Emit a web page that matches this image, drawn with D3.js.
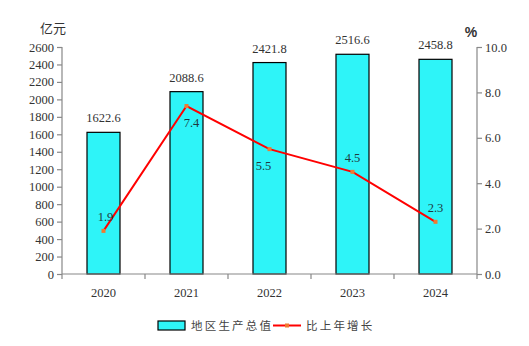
<!DOCTYPE html>
<html><head><meta charset="utf-8">
<script src="https://cdn.jsdelivr.net/npm/d3@7"></script>
<style>body{margin:0;background:#fff}svg{display:block}</style>
</head><body><svg id="c" width="529" height="346"></svg>
<script>
const years = ["2020","2021","2022","2023","2024"];
const gdp = [1622.6, 2088.6, 2421.8, 2516.6, 2458.8];
const growth = [1.9, 7.4, 5.5, 4.5, 2.3];
const leftTicks = [0,200,400,600,800,1000,1200,1400,1600,1800,2000,2200,2400,2600];
const rightTicks = [0,2,4,6,8,10];
const growthLabelPos = ["above","below","below","above","above"];

const svg = d3.select("#c");
const serif = "'Liberation Serif','Times New Roman',serif";
const cjk = "'Noto Sans CJK SC',sans-serif";
const x0 = 62, x1 = 477, yTop = 47, yBot = 274;
const x = d3.scaleBand().domain(years).range([x0, x1]);
const yL = d3.scaleLinear().domain([0, 2600]).range([yBot, yTop]);
const yR = d3.scaleLinear().domain([0, 10]).range([yBot, yTop]);
const barW = 33;

// bars
svg.selectAll("rect.bar").data(gdp).join("rect")
  .attr("x", (d,i) => x(years[i]) + x.bandwidth()/2 - barW/2)
  .attr("y", d => yL(d))
  .attr("width", barW)
  .attr("height", d => yBot - yL(d))
  .attr("fill", "#2ef4f8").attr("stroke", "#000").attr("stroke-width", 1.2);

// axes
const axL = d3.axisLeft(yL).tickValues(leftTicks).tickSize(5).tickFormat(d3.format("d"));
const axR = d3.axisRight(yR).tickValues(rightTicks).tickSize(5).tickFormat(d3.format(".1f"));
const gL = svg.append("g").attr("transform", `translate(${x0},0)`).call(axL);
const gR = svg.append("g").attr("transform", `translate(${x1},0)`).call(axR);
const axB = d3.axisBottom(x).tickSize(0).tickPadding(14);
const gB = svg.append("g").attr("transform", `translate(0,${yBot})`).call(axB);
// category boundary ticks
const bounds = years.map(y => x(y)).concat([x1]);
svg.selectAll("line.bt").data(bounds).join("line")
  .attr("x1", d => d).attr("x2", d => d).attr("y1", yBot).attr("y2", yBot + 5)
  .attr("stroke", "#888").attr("stroke-width", 1.2);

[gL, gR, gB].forEach(g => {
  g.select(".domain").attr("stroke", "#888").attr("stroke-width", 1.2);
  g.selectAll(".tick line").attr("stroke", "#888").attr("stroke-width", 1.2);
  g.selectAll("text").attr("font-family", serif).attr("font-size", 12.5).attr("fill", "#333");
});
gL.select(".domain").attr("d", `M0,${yTop}V${yBot}`);
gR.select(".domain").attr("d", `M0,${yTop}V${yBot}`);
gB.select(".domain").attr("d", `M${x0},0H${x1}`);

// axis titles
svg.append("text").attr("x", 53).attr("y", 33).attr("text-anchor","middle")
  .attr("font-family", cjk).attr("font-size", 13).attr("fill","#333").text("亿元");
svg.append("text").attr("x", 471).attr("y", 37).attr("text-anchor","middle")
  .attr("font-family", "'Liberation Sans',Arial,sans-serif").attr("font-weight","bold").attr("font-size", 14).attr("fill","#333").text("%");

// bar value labels
svg.selectAll("text.bv").data(gdp).join("text")
  .attr("x", (d,i) => x(years[i]) + x.bandwidth()/2)
  .attr("y", d => yL(d) - 10)
  .attr("text-anchor","middle").attr("font-family", serif).attr("font-size", 12.5).attr("fill","#333")
  .text(d => d.toFixed(1));

// growth line
const cx = i => x(years[i]) + x.bandwidth()/2;
const line = d3.line().x((d,i) => cx(i)).y(d => yR(d));
svg.append("path").datum(growth).attr("d", line).attr("fill","none")
  .attr("stroke", "#ff0000").attr("stroke-width", 2);
svg.selectAll("rect.mk").data(growth).join("rect")
  .attr("x", (d,i) => cx(i) - 2).attr("y", d => yR(d) - 2)
  .attr("width", 4).attr("height", 4).attr("fill", "#f07a30");
svg.selectAll("text.gv").data(growth).join("text")
  .attr("x", (d,i) => cx(i) + (i===0 ? 2 : i===1 ? 5 : i===2 ? -6 : 0))
  .attr("y", (d,i) => growthLabelPos[i]==="above" ? yR(d) - 10 : yR(d) + 21)
  .attr("text-anchor","middle").attr("font-family", serif).attr("font-size", 12.5).attr("fill","#1f3a3f")
  .text(d => d.toFixed(1));

// legend
svg.append("rect").attr("x", 158).attr("y", 321).attr("width", 27).attr("height", 9)
  .attr("fill", "#2ef4f8").attr("stroke", "#000").attr("stroke-width", 1.2);
svg.append("text").attr("x", 191).attr("y", 330).attr("font-family", cjk).attr("font-size", 11.5)
  .attr("letter-spacing", 2.2).attr("fill","#444").text("地区生产总值");
svg.append("line").attr("x1", 273).attr("x2", 301).attr("y1", 325.5).attr("y2", 325.5)
  .attr("stroke", "#ff0000").attr("stroke-width", 2);
svg.append("rect").attr("x", 285).attr("y", 323.5).attr("width", 4).attr("height", 4).attr("fill", "#f07a30");
svg.append("text").attr("x", 306).attr("y", 330).attr("font-family", cjk).attr("font-size", 11.5)
  .attr("letter-spacing", 2.2).attr("fill","#444").text("比上年增长");
</script></body></html>
